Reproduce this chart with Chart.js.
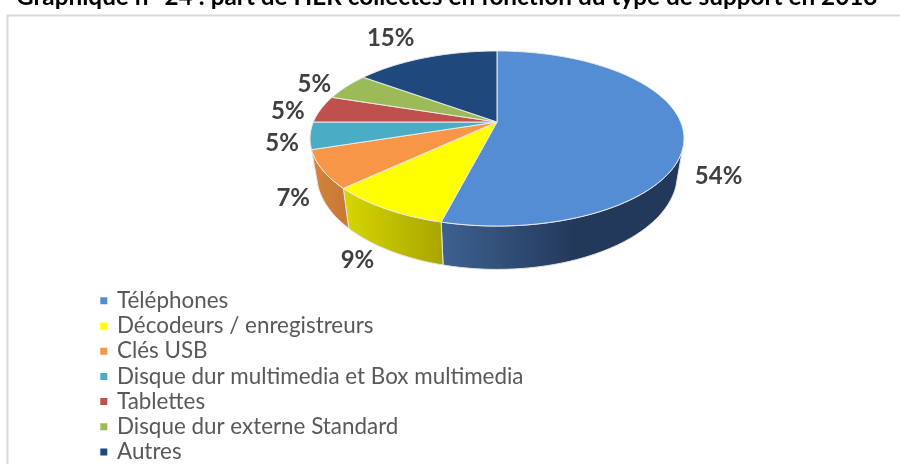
<!DOCTYPE html>
<html>
<head>
<meta charset="utf-8">
<script src="https://cdn.jsdelivr.net/npm/chart.js@4"></script>
<style>
  body { margin: 0; background: #fff; overflow: hidden; }
  canvas { display: block; }
</style>
</head>
<body>
<canvas id="chart" width="900" height="464"></canvas>
<script>
// Chart data
const titleText = 'Graphique n° 24 : part de HER collectés en fonction du type de support en 2018';
const categories = ['Téléphones', 'Décodeurs / enregistreurs', 'Clés USB', 'Disque dur multimedia et Box multimedia', 'Tablettes', 'Disque dur externe Standard', 'Autres'];
const shares = [54, 9, 7, 5, 5, 5, 15];
const sliceColors = ['#548dd4', '#ffff00', '#f79646', '#4bacc6', '#c0504d', '#9bbb59', '#1f497d'];

// Wall shading per slice, left to right on screen
const wallColors = {
  0: ['#3d6190', '#23395b'],
  1: ['#d6d600', '#aaa600'],
  2: ['#d4843b', '#c87a34']
};

// Offset of each percentage label from the rim of its slice
const labelOffsets = [[35, 43], [-28, 52], [-29, 29], [-28, 8], [-33, 2], [-32, -2], [-35, -19]];

// Perspective pie geometry
const pie = { x: 497, y: 122, rx: 183.6, ry: 84.4, tilt: 0.1886 };
const wallFrom = 108 * Math.PI / 180;
const wallTo = 252 * Math.PI / 180;

// Angle from 12 o'clock, clockwise, to a point on the top rim
function rimPoint(theta, radius = 1) {
  const u = Math.sin(theta) * radius;
  const v = -Math.cos(theta) * radius;
  const d = 1 - pie.tilt * v;
  return { x: pie.x + pie.rx * u / d, y: pie.y + pie.ry * v / d };
}

// Same point on the lower edge of the wall
function wallPoint(theta) {
  const p = rimPoint(theta);
  return { x: pie.x + (p.x - pie.x) * 0.965, y: p.y + 34 + 0.09 * (p.y - pie.y) };
}

function sliceAngles(arc) {
  // the library starts at -PI/2 with rotation 0
  return [arc.startAngle + Math.PI / 2, arc.endAngle + Math.PI / 2];
}

// Draw the slices through the perspective instead of as a flat circle
Chart.ArcElement.prototype.draw = function(ctx) {
  const [start, end] = sliceAngles(this);
  ctx.save();
  ctx.beginPath();
  ctx.moveTo(pie.x, pie.y);
  const steps = Math.max(6, Math.ceil((end - start) * 60));
  for (let i = 0; i <= steps; i++) {
    const p = rimPoint(start + (end - start) * i / steps);
    ctx.lineTo(p.x, p.y);
  }
  ctx.closePath();
  ctx.fillStyle = this.options.backgroundColor;
  ctx.fill();
  ctx.lineWidth = 1;
  ctx.lineJoin = 'round';
  ctx.strokeStyle = '#e9e9e9';
  ctx.stroke();
  ctx.restore();
};

const pieWalls = {
  id: 'pieWalls',
  beforeDatasetsDraw(chart) {
    const ctx = chart.ctx;
    chart.getDatasetMeta(0).data.forEach((arc, index) => {
      const [s, e] = sliceAngles(arc);
      const start = Math.max(s, wallFrom);
      const end = Math.min(e, wallTo);
      if (end <= start || !wallColors[index]) return;
      const steps = Math.ceil((end - start) * 60);
      ctx.beginPath();
      for (let i = 0; i <= steps; i++) {
        const p = rimPoint(start + (end - start) * i / steps);
        i ? ctx.lineTo(p.x, p.y) : ctx.moveTo(p.x, p.y);
      }
      for (let i = steps; i >= 0; i--) {
        const p = wallPoint(start + (end - start) * i / steps);
        ctx.lineTo(p.x, p.y);
      }
      ctx.closePath();
      const a = rimPoint(end).x;
      const b = index === 0 ? 575 : rimPoint(start).x;
      const gradient = ctx.createLinearGradient(a, 0, b, 0);
      gradient.addColorStop(0, wallColors[index][0]);
      gradient.addColorStop(1, wallColors[index][1]);
      ctx.fillStyle = gradient;
      ctx.fill();
      ctx.lineWidth = 1;
      ctx.strokeStyle = '#e4e4e4';
      ctx.stroke();
    });
  }
};

const percentLabels = {
  id: 'percentLabels',
  afterDatasetsDraw(chart) {
    const ctx = chart.ctx;
    ctx.save();
    ctx.font = 'bold 24px Lato, "Open Sans", sans-serif';
    ctx.fillStyle = '#404040';
    ctx.textAlign = 'center';
    ctx.textBaseline = 'middle';
    chart.getDatasetMeta(0).data.forEach((arc, index) => {
      const [s, e] = sliceAngles(arc);
      const rim = rimPoint((s + e) / 2);
      const share = chart.data.datasets[0].data[index];
      ctx.fillText(share + '%', rim.x + labelOffsets[index][0], rim.y + labelOffsets[index][1]);
    });
    ctx.restore();
  }
};

const frame = {
  id: 'frame',
  // the title sits left of the legend padding
  afterLayout(chart) {
    chart.titleBlock.left = 16;
  },
  beforeDraw(chart) {
    const ctx = chart.ctx;
    ctx.save();
    ctx.strokeStyle = '#d9d9d9';
    ctx.lineWidth = 2;
    ctx.beginPath();
    ctx.moveTo(7.5, 464);
    ctx.lineTo(7.5, 15.5);
    ctx.lineTo(900, 15.5);
    ctx.stroke();
    ctx.restore();
  }
};

new Chart(document.getElementById('chart'), {
  type: 'pie',
  data: {
    labels: categories,
    datasets: [{
      data: shares,
      backgroundColor: sliceColors
    }]
  },
  plugins: [frame, pieWalls, percentLabels],
  options: {
    responsive: false,
    animation: false,
    layout: {
      padding: { left: 99, bottom: -2 }
    },
    plugins: {
      tooltip: { enabled: false },
      title: {
        display: true,
        text: titleText,
        align: 'start',
        color: '#000000',
        font: { family: 'Lato, "Open Sans", sans-serif', size: 24.3, weight: 'bold' },
        padding: { top: -17, bottom: 0 }
      },
      legend: {
        position: 'left',
        align: 'end',
        maxWidth: 600,
        labels: {
          boxWidth: 4,
          boxHeight: 4,
          padding: 2.8,
          color: '#595959',
          font: { family: 'Lato, "Open Sans", sans-serif', size: 22.4 },
          generateLabels(chart) {
            return Chart.PieController.overrides.plugins.legend.labels.generateLabels(chart).map(item => ({
              ...item,
              lineWidth: 3,
              strokeStyle: item.fillStyle
            }));
          }
        }
      }
    }
  }
});
</script>
</body>
</html>
